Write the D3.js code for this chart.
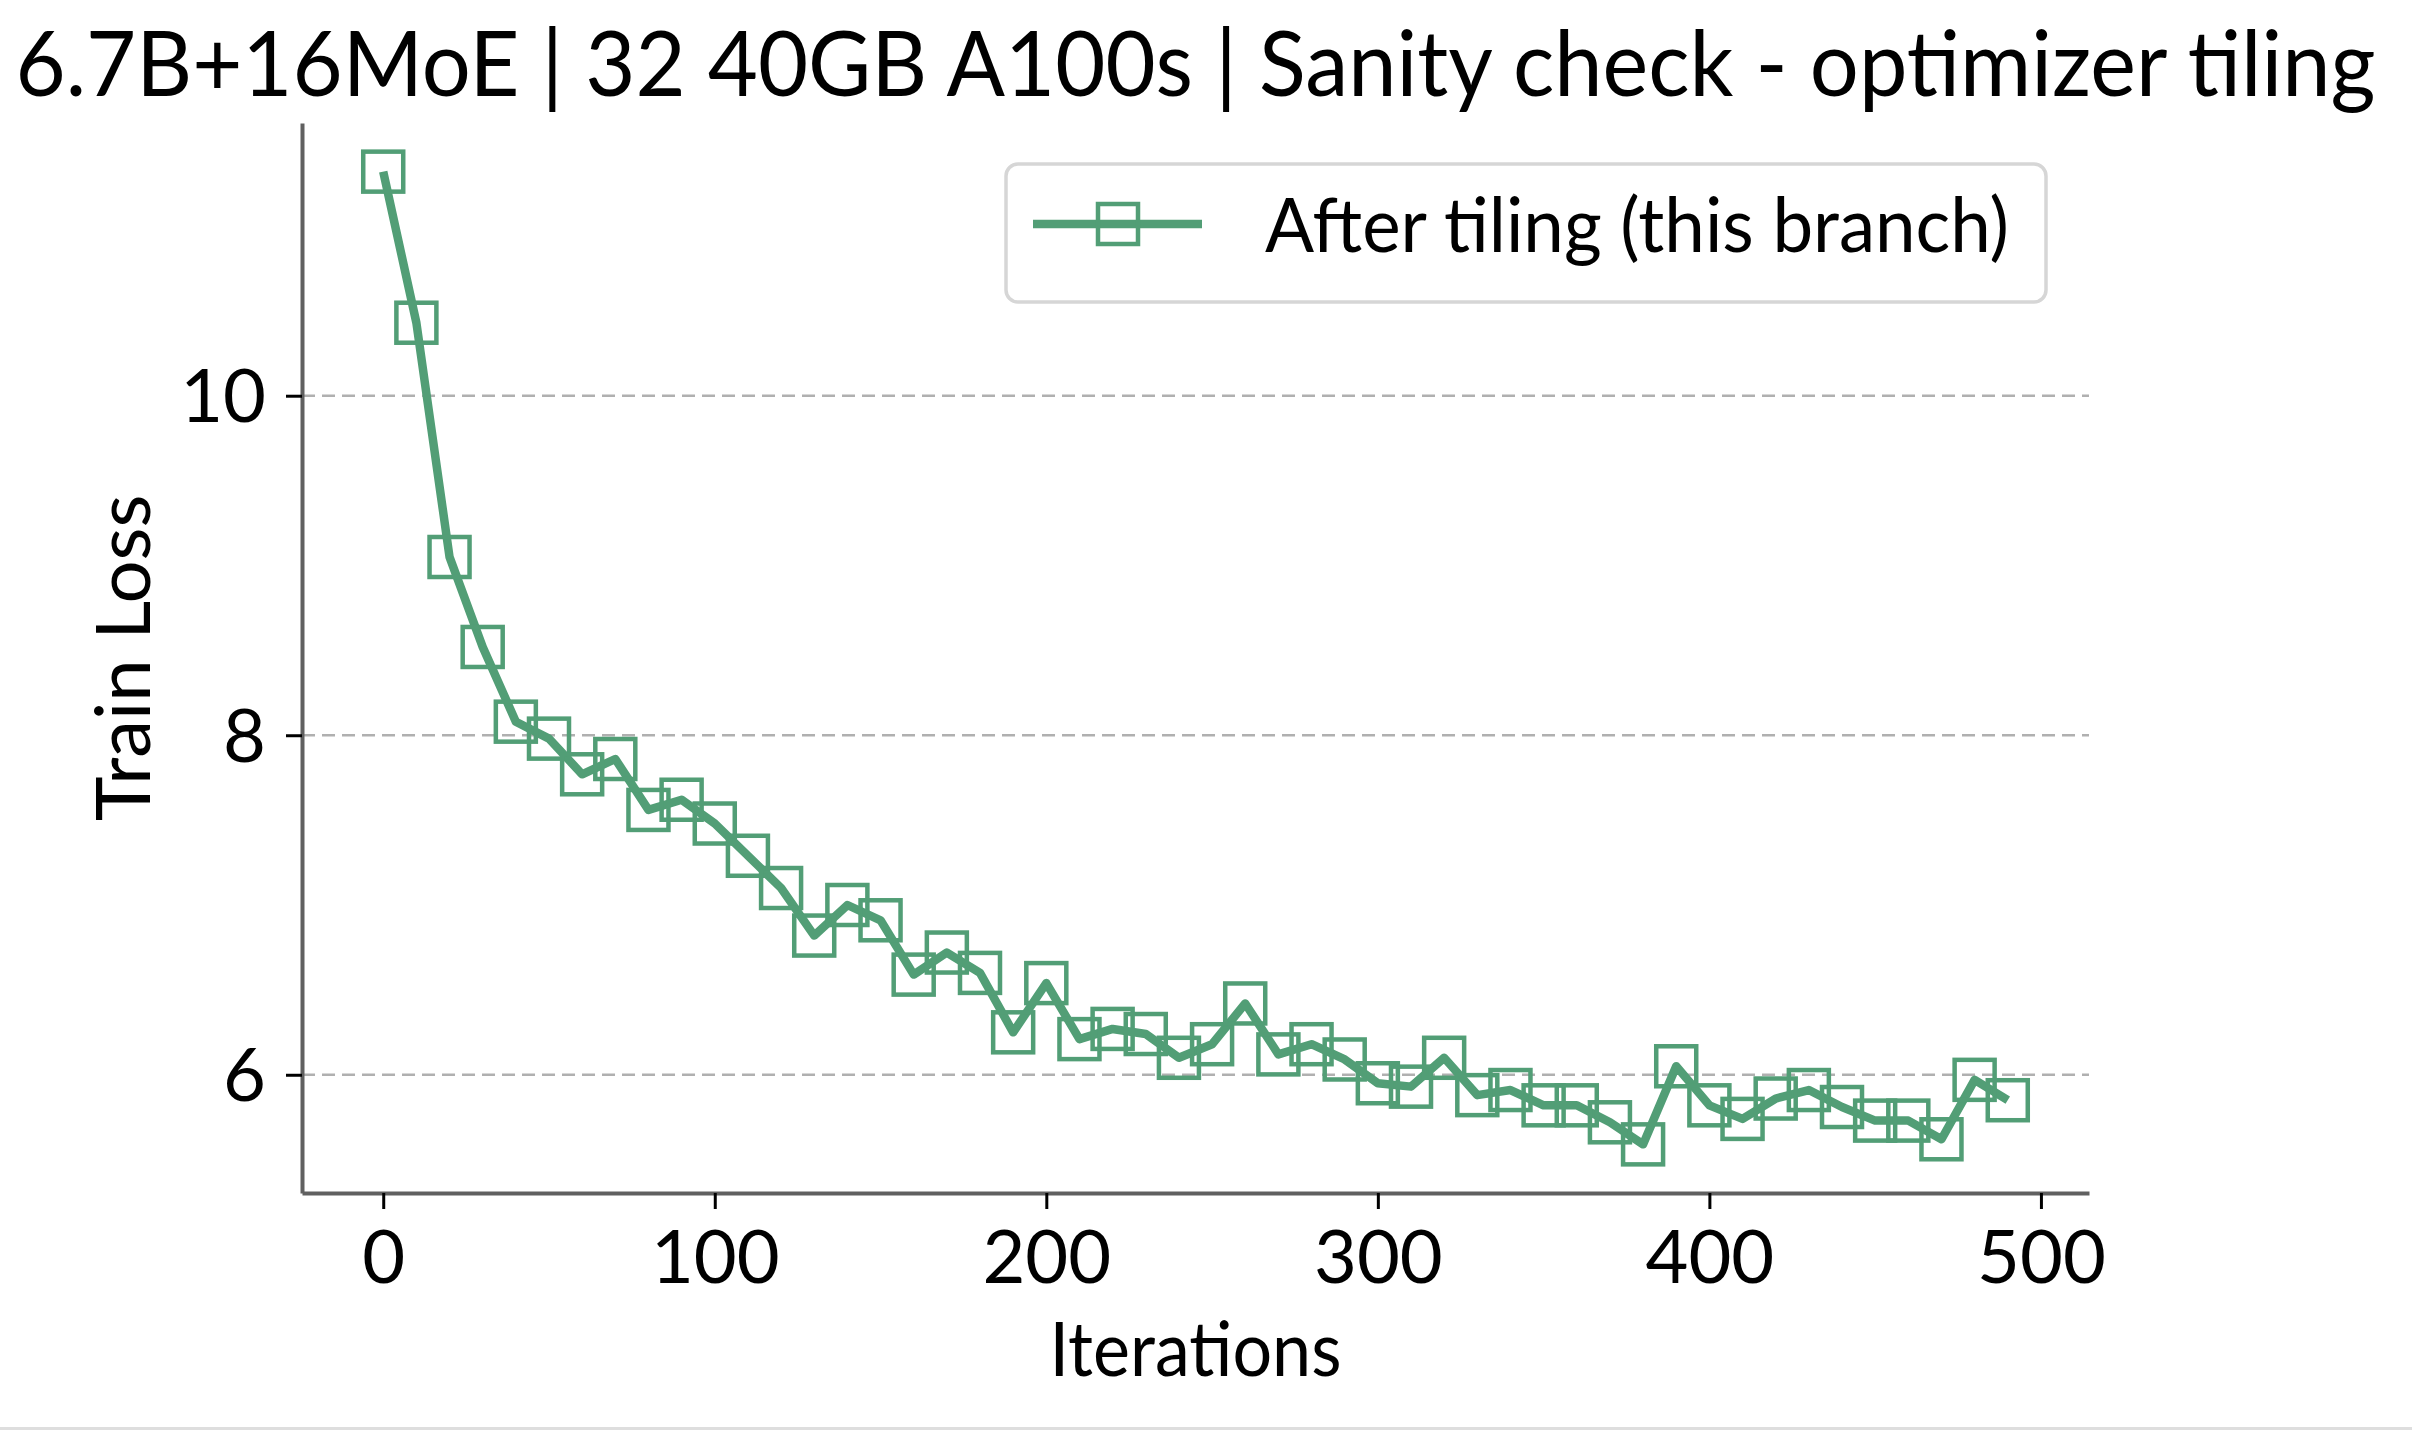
<!DOCTYPE html>
<html>
<head>
<meta charset="utf-8">
<script src="https://cdn.jsdelivr.net/npm/d3@7"></script>
<style>
  body { margin: 0; background: #fff; overflow: hidden; }
  svg { display: block; }
  text { font-family: Lato, "Open Sans", sans-serif; fill: #000; }
</style>
</head>
<body>
<div id="chart"></div>
<script>
// chart data
var iterations = [0, 10, 20, 30, 40, 50, 60, 70, 80, 90,
                  100, 110, 120, 130, 140, 150, 160, 170, 180, 190,
                  200, 210, 220, 230, 240, 250, 260, 270, 280, 290,
                  300, 310, 320, 330, 340, 350, 360, 370, 380, 390,
                  400, 410, 420, 430, 440, 450, 460, 470, 480, 490];
var trainLoss = [11.32, 10.43, 9.05, 8.52, 8.08, 7.98, 7.77, 7.86, 7.56, 7.62,
                 7.48, 7.29, 7.10, 6.82, 7.00, 6.91, 6.59, 6.72, 6.60, 6.25,
                 6.54, 6.21, 6.27, 6.24, 6.10, 6.18, 6.42, 6.12, 6.18, 6.09,
                 5.95, 5.93, 6.10, 5.88, 5.91, 5.82, 5.82, 5.72, 5.59, 6.05,
                 5.82, 5.74, 5.86, 5.91, 5.81, 5.73, 5.73, 5.62, 5.97, 5.85];
var xTicks = [0, 100, 200, 300, 400, 500];
var yTicks = [6, 8, 10];
var seriesName = "After tiling (this branch)";
var titleText = "6.7B+16MoE | 32 40GB A100s | Sanity check - optimizer tiling";
var xLabel = "Iterations";
var yLabel = "Train Loss";

var width = 2412, height = 1430;
var margin = {top: 123, right: 323, bottom: 237, left: 302};
var innerWidth = width - margin.left - margin.right;
var innerHeight = height - margin.top - margin.bottom;
var green = "#529e76";
var fontFamily = "Lato, 'Open Sans', sans-serif";

var svg = d3.select("#chart")
      .append("svg")
      .attr("width", width)
      .attr("height", height);

var g = svg.append("g")
      .attr("transform", "translate(" + margin.left + "," + margin.top + ")");

// matplotlib style 5% margins around the data
var xPad = (d3.max(iterations) - d3.min(iterations)) * 0.05;
var yPad = (d3.max(trainLoss) - d3.min(trainLoss)) * 0.05;

var xScale = d3.scaleLinear()
      .domain([d3.min(iterations) - xPad, d3.max(iterations) + xPad])
      .range([0, innerWidth]);
var yScale = d3.scaleLinear()
      .domain([d3.min(trainLoss) - yPad, d3.max(trainLoss) + yPad])
      .range([innerHeight, 0]);

// dashed horizontal grid
g.append("g")
  .selectAll("line")
  .data(yTicks)
  .enter()
  .append("line")
  .attr("x1", 0)
  .attr("x2", innerWidth)
  .attr("y1", function(d) { return yScale(d); })
  .attr("y2", function(d) { return yScale(d); })
  .attr("stroke", "#b0b0b0")
  .attr("stroke-width", 2.5)
  .attr("stroke-dasharray", "13,7");

// axes
var xAxis = g.append("g")
      .attr("transform", "translate(0," + innerHeight + ")")
      .call(d3.axisBottom(xScale).tickValues(xTicks).tickFormat(d3.format("d"))
            .tickSize(16).tickSizeOuter(0).tickPadding(20));
var yAxis = g.append("g")
      .call(d3.axisLeft(yScale).tickValues(yTicks).tickFormat(d3.format("d"))
            .tickSize(16).tickSizeOuter(0).tickPadding(20));

[xAxis, yAxis].forEach(function(ax) {
  ax.attr("font-size", 74).attr("font-family", fontFamily);
  ax.select(".domain").attr("stroke", "#606060").attr("stroke-width", 4);
  ax.selectAll(".tick line").attr("stroke", "#000").attr("stroke-width", 3);
  ax.selectAll(".tick text").attr("fill", "#000");
});
// put the tick labels by baseline in px instead of em offsets
xAxis.selectAll(".tick text").attr("dy", null).attr("y", 90);
yAxis.selectAll(".tick text").attr("dy", null).attr("y", 26);

// the series
var line = d3.line()
      .x(function(d, i) { return xScale(iterations[i]); })
      .y(function(d) { return yScale(d); });

g.append("path")
  .datum(trainLoss)
  .attr("fill", "none")
  .attr("stroke", green)
  .attr("stroke-width", 8.5)
  .attr("stroke-linejoin", "round")
  .attr("d", line);

var markerSize = 40;
g.append("g")
  .selectAll("rect")
  .data(trainLoss)
  .enter()
  .append("rect")
  .attr("x", function(d, i) { return xScale(iterations[i]) - markerSize / 2; })
  .attr("y", function(d) { return yScale(d) - markerSize / 2; })
  .attr("width", markerSize)
  .attr("height", markerSize)
  .attr("fill", "none")
  .attr("stroke", green)
  .attr("stroke-width", 4.5);

// labels
svg.append("text")
  .attr("x", margin.left + innerWidth / 2)
  .attr("y", 96)
  .attr("text-anchor", "middle")
  .attr("textLength", 2360)
  .attr("lengthAdjust", "spacingAndGlyphs")
  .attr("font-size", 92)
  .text(titleText);

svg.append("text")
  .attr("x", margin.left + innerWidth / 2)
  .attr("y", 1376)
  .attr("text-anchor", "middle")
  .attr("textLength", 292)
  .attr("lengthAdjust", "spacingAndGlyphs")
  .attr("font-size", 76)
  .text(xLabel);

svg.append("text")
  .attr("transform", "translate(150," + (margin.top + innerHeight / 2) + ") rotate(-90)")
  .attr("text-anchor", "middle")
  .attr("font-size", 76)
  .text(yLabel);

// legend
var legend = svg.append("g").attr("transform", "translate(1006,164)");
legend.append("rect")
  .attr("width", 1040)
  .attr("height", 138)
  .attr("rx", 12)
  .attr("fill", "#fff")
  .attr("stroke", "#d6d6d6")
  .attr("stroke-width", 3.5);
legend.append("line")
  .attr("x1", 27).attr("x2", 196)
  .attr("y1", 60).attr("y2", 60)
  .attr("stroke", green)
  .attr("stroke-width", 8.5);
legend.append("rect")
  .attr("x", 112 - markerSize / 2)
  .attr("y", 60 - markerSize / 2)
  .attr("width", markerSize)
  .attr("height", markerSize)
  .attr("fill", "none")
  .attr("stroke", green)
  .attr("stroke-width", 4.5);
legend.append("text")
  .attr("x", 259)
  .attr("y", 88)
  .attr("textLength", 744)
  .attr("lengthAdjust", "spacingAndGlyphs")
  .attr("font-size", 76)
  .text(seriesName);

// faint edge line at the very bottom of the picture
svg.append("line")
  .attr("x1", 0).attr("x2", width)
  .attr("y1", height - 1.5).attr("y2", height - 1.5)
  .attr("stroke", "#dedede")
  .attr("stroke-width", 3);
</script>
</body>
</html>
